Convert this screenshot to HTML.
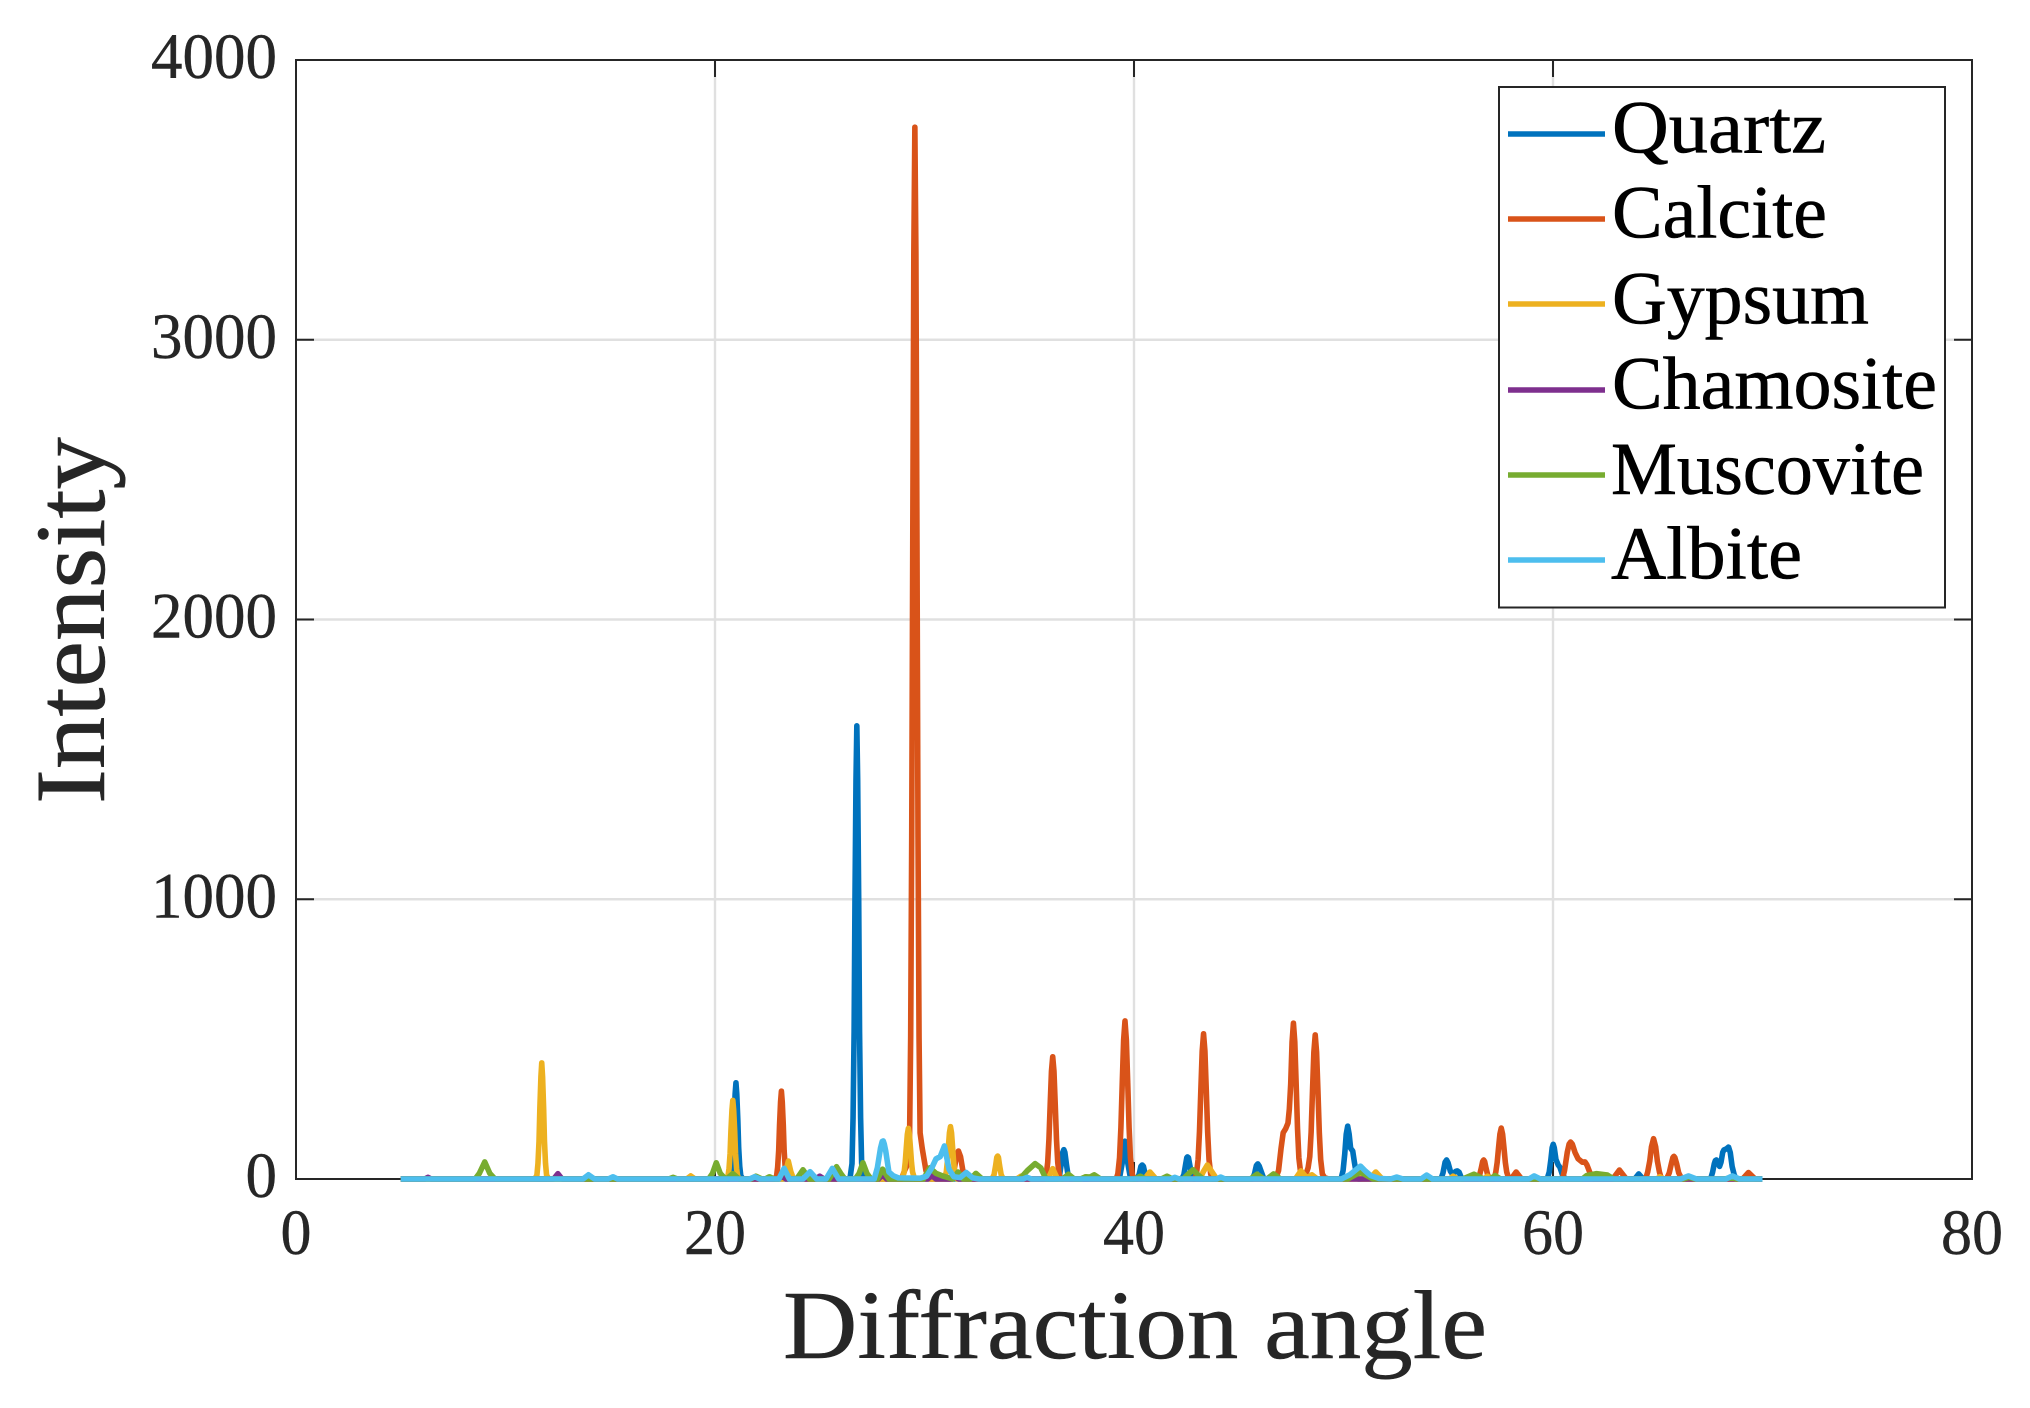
<!DOCTYPE html>
<html lang="en">
<head>
<meta charset="utf-8">
<title>Diffraction pattern</title>
<style>
html,body{margin:0;padding:0;background:#fff;width:2030px;height:1408px;overflow:hidden}
svg{display:block}
text{font-family:"Liberation Serif",serif}
</style>
</head>
<body>
<svg id="chart" width="2030" height="1408" viewBox="0 0 2030 1408" xmlns="http://www.w3.org/2000/svg">
  <rect x="0" y="0" width="2030" height="1408" fill="#ffffff"/>
  <g id="grid"></g>
  <g id="ticks"></g>
  <rect x="296" y="60" width="1676" height="1119" fill="none" stroke="#262626" stroke-width="2"/>
  <g id="xlabels"></g>
  <g id="ylabels"></g>
  <g id="series"></g>
  <text x="783" y="1358" font-size="97" fill="#262626" stroke="#262626" stroke-width="0.5" textLength="704" lengthAdjust="spacingAndGlyphs">Diffraction angle</text>
  <text transform="translate(104,804) rotate(-90)" x="0" y="0" font-size="100" fill="#262626" stroke="#262626" stroke-width="0.5" textLength="367" lengthAdjust="spacingAndGlyphs">Intensity</text>
  <g>
    <rect x="1499" y="87" width="446" height="520.5" fill="#ffffff" stroke="#262626" stroke-width="2"/>
    <line x1="1508" x2="1605" y1="134" y2="134" stroke="#0072BD" stroke-width="5.5"/>
    <text x="1612" y="152.5" font-size="75" fill="#000" stroke="#000" stroke-width="0.6" textLength="214" lengthAdjust="spacingAndGlyphs">Quartz</text>
    <line x1="1508" x2="1605" y1="219" y2="219" stroke="#D95319" stroke-width="5.5"/>
    <text x="1612" y="237.5" font-size="75" fill="#000" stroke="#000" stroke-width="0.6" textLength="215" lengthAdjust="spacingAndGlyphs">Calcite</text>
    <line x1="1508" x2="1605" y1="304" y2="304" stroke="#EDB120" stroke-width="5.5"/>
    <text x="1612" y="323.5" font-size="75" fill="#000" stroke="#000" stroke-width="0.6" textLength="257" lengthAdjust="spacingAndGlyphs">Gypsum</text>
    <line x1="1508" x2="1605" y1="390" y2="390" stroke="#7E2F8E" stroke-width="5.5"/>
    <text x="1612" y="408.5" font-size="75" fill="#000" stroke="#000" stroke-width="0.6" textLength="325" lengthAdjust="spacingAndGlyphs">Chamosite</text>
    <line x1="1508" x2="1605" y1="475" y2="475" stroke="#77AC30" stroke-width="5.5"/>
    <text x="1611" y="494" font-size="75" fill="#000" stroke="#000" stroke-width="0.6" textLength="313" lengthAdjust="spacingAndGlyphs">Muscovite</text>
    <line x1="1508" x2="1605" y1="560" y2="560" stroke="#4DBEEE" stroke-width="5.5"/>
    <text x="1611" y="578.5" font-size="75" fill="#000" stroke="#000" stroke-width="0.6" textLength="191" lengthAdjust="spacingAndGlyphs">Albite</text>
  </g>
</svg>
<script>
const xTickValues = [0, 20, 40, 60, 80];
const yTickValues = [0, 1000, 2000, 3000, 4000];

const quartzAngles = [5,
  20.67,20.77,20.82,20.87,20.91,20.96,21.0,21.04,21.09,21.13,21.18,21.23,21.33,
  26.44,26.54,26.59,26.64,26.68,26.73,26.77,26.81,26.86,26.9,26.95,27.0,27.1,
  36.35,36.45,36.52,36.6,36.65,36.7,36.78,36.85,36.95,
  39.3,39.43,39.57,39.71,39.84,
  40.15,40.25,40.33,40.39,40.45,40.53,40.63,
  42.28,42.38,42.47,42.52,42.55,42.6,42.65,42.75,42.85,
  45.65,45.75,45.84,45.91,45.98,46.08,46.2,
  49.88,49.98,50.06,50.13,50.2,50.27,50.34,50.44,50.52,50.62,50.72,
  54.65,54.75,54.85,54.92,54.99,55.1,55.22,55.35,55.43,55.52,55.65,
  59.72,59.82,59.9,59.96,60.01,60.06,60.14,60.25,60.33,60.45,60.6,
  63.9,64.09,64.3,
  67.52,67.62,67.7,67.75,67.8,67.85,67.95,68.02,68.1,68.16,68.28,68.38,68.46,68.55,68.65,68.75,
  70];
const quartzValues = [0,
  0,12,46,112,210,303,344,303,210,112,46,12,0,
  0,55,219,527,988,1426,1620,1426,988,527,219,55,0,
  0,15,50,95,105,95,50,15,0,
  0,54,135,54,0,
  0,18,45,50,45,18,0,
  0,15,55,76,79,76,55,15,0,
  0,18,48,54,46,25,0,
  0,30,90,160,189,160,110,100,60,15,0,
  0,22,60,68,58,28,16,27,29,24,0,
  0,25,70,112,124,112,70,50,42,15,0,
  0,18,0,
  0,25,55,66,68,62,45,60,95,104,108,114,95,45,15,0,
  0];

const calciteAngles = [5,
  22.84,22.94,22.99,23.04,23.08,23.13,23.17,23.21,23.26,23.3,23.35,23.4,23.5,
  28.9,29.05,29.24,29.29,29.34,29.39,29.44,29.49,29.54,29.59,29.64,29.69,29.74,29.79,29.89,30.07,30.25,
  31.3,31.42,31.52,31.62,31.72,31.82,31.95,
  35.75,35.81,35.88,35.94,36.0,36.06,36.12,36.18,36.24,36.3,36.36,36.43,36.49,
  39.15,39.23,39.31,39.375,39.44,39.505,39.57,39.635,39.7,39.765,39.83,39.91,39.99,
  42.9,42.98,43.06,43.125,43.19,43.255,43.32,43.385,43.45,43.515,43.58,43.66,43.74,
  46.75,46.9,47.02,47.12,47.24,47.35,47.415,47.48,47.545,47.61,47.675,47.74,47.805,47.87,47.95,48.1,48.22,
  48.31,48.39,48.455,48.52,48.585,48.65,48.715,48.78,48.845,48.91,48.99,49.1,49.3,
  56.4,56.5,56.58,56.64,56.69,56.74,56.8,56.88,56.98,
  57.19,57.27,57.335,57.4,57.465,57.53,57.595,57.66,57.725,57.79,57.87,57.97,
  58.0,58.24,58.5,
  60.45,60.55,60.68,60.77,60.84,60.92,61.05,61.2,61.4,61.53,61.62,61.75,61.92,
  62.85,63.17,63.5,
  64.42,64.52,64.62,64.7,64.8,64.9,64.98,65.08,65.18,
  65.42,65.55,65.65,65.72,65.77,65.82,65.9,66,66.15,
  69.05,69.33,69.65,
  70];
const calciteValues = [0,
  0,11,42,102,192,276,314,276,192,102,42,11,0,
  0,30,60,165,508,1222,2294,3309,3760,3309,2294,1222,508,165,110,30,0,
  0,35,80,100,80,35,0,
  0,15,59,142,267,385,437,385,267,142,59,15,0,
  0,19,76,184,345,497,565,497,345,184,76,19,0,
  0,18,70,169,317,457,519,457,317,169,70,18,0,
  0,30,110,165,180,200,250,340,490,557,490,340,181,75,25,10,20,
  40,80,167,314,453,515,453,314,167,70,18,5,0,
  0,15,40,62,68,62,40,15,0,
  0,25,59,111,160,182,160,111,59,25,6,0,
  0,25,0,
  0,30,95,125,132,125,95,72,60,61,50,25,0,
  0,32,0,
  0,25,65,115,144,115,65,25,0,
  0,22,55,76,81,76,55,22,0,
  0,23,0,
  0];

const gypsumAngles = [5,
  11.4,11.5,11.55,11.6,11.64,11.69,11.73,11.77,11.82,11.86,11.91,11.96,12.06,
  18.65,18.84,19.05,
  20.52,20.62,20.67,20.72,20.76,20.81,20.85,20.89,20.94,20.98,21.03,21.08,21.18,
  23.25,23.38,23.5,23.62,23.75,
  28.93,29.03,29.08,29.13,29.18,29.23,29.28,29.33,29.38,29.43,29.53,
  30.94,31.04,31.09,31.14,31.19,31.24,31.29,31.34,31.39,31.44,31.54,
  33.22,33.32,33.4,33.45,33.49,33.53,33.58,33.66,33.76,
  34.4,34.6,34.8,
  35.9,36.12,36.35,
  37.5,37.7,37.9,
  40.5,40.76,41.05,
  43.15,43.3,43.5,43.7,43.95,
  47.7,47.97,48.25,48.49,48.75,
  50.35,50.6,50.85,
  51.25,51.54,51.85,
  55.05,55.23,55.45,
  56.7,56.87,57.05,
  64.95,65.1,65.3,
  70];
const gypsumValues = [0,
  0,14,56,135,253,365,415,365,253,135,56,14,0,
  0,11,0,
  0,10,38,91,171,247,281,247,171,91,38,10,0,
  0,26,64,26,0,
  0,25,59,110,159,181,159,110,59,25,0,
  0,25,61,114,165,187,165,114,61,25,0,
  0,15,50,77,82,77,50,15,0,
  0,10,0,
  0,37,0,
  0,8,0,
  0,25,0,
  0,25,50,28,0,
  0,29,4,15,0,
  0,20,0,
  0,25,0,
  0,10,0,
  0,10,0,
  0,8,0,
  0];

const chamositeAngles = [5,6.15,6.3,6.45,12.3,12.5,12.7,23.0,23.2,23.4,24.8,25.0,25.2,27.8,28.0,28.2,30.15,30.35,30.55,31.25,31.45,31.65,70];
const chamositeValues = [0,0,6,0,0,19,0,0,10,0,0,10,0,0,15,0,0,12,0,0,8,0,0];

const muscoviteAngles = [5,8.55,8.75,9.01,9.25,9.5,17.8,18.0,18.2,19.7,19.88,20.06,20.25,20.5,20.55,20.85,21.15,21.7,21.95,22.25,22.4,22.6,22.8,23.05,23.3,23.55,23.9,24.2,24.5,25.45,25.62,25.8,26.0,26.2,26.7,26.88,27.06,27.25,27.45,27.75,28.0,28.3,29.95,30.25,30.55,30.9,31.35,31.6,31.85,32.2,32.45,32.75,34.55,34.91,35.28,35.55,35.8,36.6,36.87,37.15,37.45,37.7,37.9,38.1,38.4,40.05,40.3,40.55,41.3,41.58,41.85,42.35,42.55,42.82,43.05,43.3,45.55,45.87,46.2,46.35,46.66,47.0,50.2,50.81,51.4,55.7,56.23,56.7,57.0,57.24,57.5,61.4,61.6,62.08,62.6,62.9,66.2,66.5,66.8,68.2,68.5,68.8,70];
const muscoviteValues = [0,0,20,61,20,0,0,6,0,0,20,58,20,0,0,19,0,0,10,0,0,8,0,0,35,0,0,33,0,0,20,44,20,0,0,20,58,20,0,0,35,0,0,40,20,10,0,25,0,0,20,0,0,30,55,40,0,0,17,0,0,8,7,15,0,0,10,0,0,10,0,0,15,33,15,0,0,17,0,0,18,0,0,25,0,0,17,0,0,12,0,0,12,19,14,0,0,6,0,0,5,0,0];

const albiteAngles = [5,13.7,13.96,14.25,14.9,15.13,15.35,21.65,21.9,22.15,23.05,23.3,23.55,24.2,24.54,24.85,25.3,25.6,25.9,27.6,27.75,27.9,27.98,28.03,28.08,28.15,28.3,28.5,28.75,29.8,30.1,30.35,30.55,30.75,30.95,31.17,31.4,31.7,31.99,32.3,32.6,34.7,34.9,35.1,41.75,41.95,42.15,43.95,44.14,44.35,49.9,50.3,50.55,50.81,51.05,51.3,51.7,52.25,52.54,52.85,53.7,53.97,54.25,58.85,59.1,59.4,66.1,66.46,66.85,68.25,68.56,68.9,70];
const albiteValues = [0,0,15,0,0,8,0,0,8,0,0,38,0,0,26,0,0,38,0,0,40,110,134,136,125,100,25,12,4,3,10,40,72,80,118,35,8,5,23,4,0,0,6,0,0,6,0,0,7,0,0,15,30,46,28,12,2,0,7,0,0,14,0,0,11,0,0,11,0,0,11,0,0];

const SVGNS = 'http://www.w3.org/2000/svg';
function xScale(a) { return 296 + a * 20.95; }
function yScale(v) { return 1179 - v * 0.27975; }
function make(tag, attrs, parent) {
  const el = document.createElementNS(SVGNS, tag);
  for (const k in attrs) el.setAttribute(k, attrs[k]);
  parent.appendChild(el);
  return el;
}
const gridG = document.getElementById('grid');
const ticksG = document.getElementById('ticks');
const xLabelsG = document.getElementById('xlabels');
const yLabelsG = document.getElementById('ylabels');
const seriesG = document.getElementById('series');

xTickValues.forEach(function (t) {
  const x = xScale(t);
  if (t > 0 && t < 80) {
    const g = make('line', {x1: x, x2: x, y1: 60, y2: 1179, stroke: '#e0e0e0', 'stroke-width': 2.4}, gridG);
    
    
  }
  const tb = make('line', {x1: x, x2: x, y1: 1179, y2: 1162, stroke: '#262626', 'stroke-width': 2}, ticksG);
  
  
  const tt = make('line', {x1: x, x2: x, y1: 60, y2: 77, stroke: '#262626', 'stroke-width': 2}, ticksG);
  
  
  const s = String(t);
  const lbl = make('text', {x: x, y: 1254, 'font-size': 65, fill: '#262626', stroke: '#262626', 'stroke-width': 0.4, 'text-anchor': 'middle', textLength: s.length * 31, lengthAdjust: 'spacingAndGlyphs'}, xLabelsG);
  lbl.textContent = s;
  
  
});

yTickValues.forEach(function (t) {
  const y = yScale(t);
  if (t > 0 && t < 4000) {
    const g = make('line', {x1: 296, x2: 1972, y1: y, y2: y, stroke: '#e0e0e0', 'stroke-width': 2.4}, gridG);
    
    
  }
  const tl = make('line', {x1: 296, x2: 314, y1: y, y2: y, stroke: '#262626', 'stroke-width': 2}, ticksG);
  
  
  const tr = make('line', {x1: 1954, x2: 1972, y1: y, y2: y, stroke: '#262626', 'stroke-width': 2}, ticksG);
  
  
  const s = String(t);
  const lbl = make('text', {x: 277, y: y + 18, 'font-size': 65, fill: '#262626', stroke: '#262626', 'stroke-width': 0.4, 'text-anchor': 'end', textLength: s.length * 31.5, lengthAdjust: 'spacingAndGlyphs'}, yLabelsG);
  lbl.textContent = s;
  
  
});

function drawSeries(angles, values, color, name) {
  let d = '';
  for (let i = 0; i < angles.length; i++) {
    d += (i ? 'L' : 'M') + xScale(angles[i]).toFixed(2) + ' ' + yScale(values[i]).toFixed(2);
  }
  const p = make('path', {d: d, fill: 'none', stroke: color, 'stroke-width': 5.6, 'stroke-linejoin': 'round', 'stroke-linecap': 'butt'}, seriesG);
  
  
}
drawSeries(quartzAngles, quartzValues, '#0072BD', 'series-quartz');
drawSeries(calciteAngles, calciteValues, '#D95319', 'series-calcite');
drawSeries(gypsumAngles, gypsumValues, '#EDB120', 'series-gypsum');
drawSeries(chamositeAngles, chamositeValues, '#7E2F8E', 'series-chamosite');
drawSeries(muscoviteAngles, muscoviteValues, '#77AC30', 'series-muscovite');
drawSeries(albiteAngles, albiteValues, '#4DBEEE', 'series-albite');
</script>
</body>
</html>
